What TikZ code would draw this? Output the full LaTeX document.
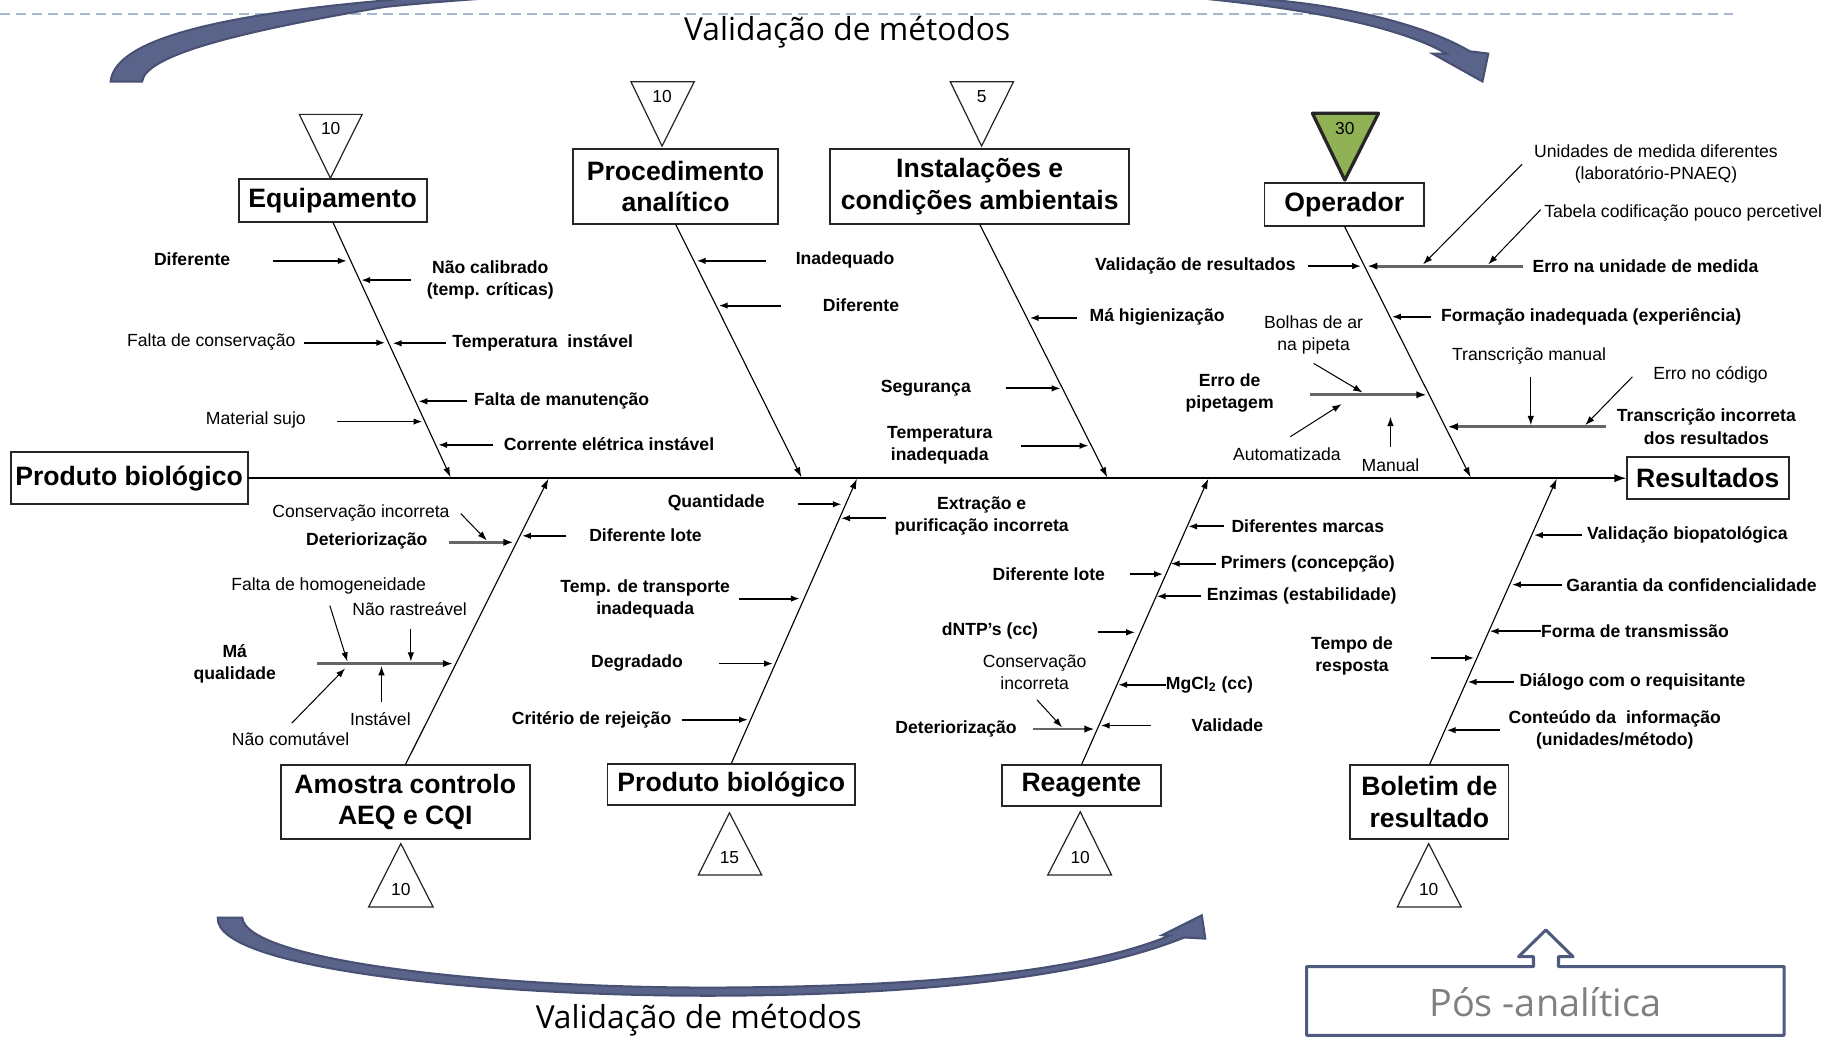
\documentclass[tikz,border=0pt]{standalone}
\usepackage{fontspec}
\setmainfont{Liberation Sans}
\newfontfamily\slidefont{Open Sans}
\usetikzlibrary{arrows.meta}
\definecolor{arcblue}{RGB}{90,99,138}
\definecolor{arcedge}{RGB}{72,80,115}
\definecolor{dashblue}{RGB}{165,184,207}
\definecolor{opgreen}{RGB}{145,178,84}
\definecolor{posblue}{RGB}{80,90,125}
\definecolor{posgrey}{RGB}{128,128,128}

\begin{document}
\begin{tikzpicture}[x=0.02cm, y=-0.02cm,
	box/.style = {draw=black!85, line width=0.9pt, fill=white, align=center,
		inner sep=0pt, outer sep=0pt,
		font=\fontsize{13}{15.4}\selectfont\bfseries},
	cause/.style = {align=center, inner sep=0pt,
		font=\fontsize{8.6}{10.8}\selectfont\bfseries},
	note/.style = {align=center, inner sep=0pt,
		font=\fontsize{8.6}{10.8}\selectfont},
	score/.style = {inner sep=0pt, font=\fontsize{8.5}{10}\selectfont},
	title/.style = {anchor=base, inner sep=0pt,
		font=\slidefont\fontsize{15.5}{18}\selectfont},
	tri/.style = {draw=black!85, line width=0.6pt, fill=white},
	spine/.style = {line width=0.8pt, -{Latex[length=6pt,width=4pt]}},
	bone/.style = {line width=0.55pt, -{Latex[length=5pt,width=3.2pt]}},
	arr/.style = {line width=0.9pt, -{Latex[length=4.5pt,width=3.2pt]}},
	twig/.style = {line width=0.5pt, -{Latex[length=4.5pt,width=3.2pt]}},
	sub/.style = {line width=1.4pt, draw=black!60,
		-{Latex[length=5pt,width=3.6pt,black]}},
	band/.style = {fill=arcblue, draw=arcedge, line width=1pt}]

\useasboundingbox (0,0) rectangle (1568,890);
\clip (0,0) rectangle (1568,890);

\draw[dashblue, line width=1pt, dash pattern=on 4.9pt off 2.9pt] (0,12) -- (1488,12);

\filldraw[band] (95,70) .. controls (98,40) and (160,15) .. (335,0)
	.. controls (500,-22) and (900,-25) .. (1093,0)
	.. controls (1160,6) and (1225,22) .. (1262,44) -- (1278,46) -- (1273,70)
	-- (1230,46) -- (1242,46) .. controls (1200,22) and (1120,8) .. (1045,0)
	.. controls (880,-18) and (520,-14) .. (330,6)
	.. controls (200,28) and (125,48) .. (122,70) -- cycle;
\filldraw[band] (187,788) .. controls (184,832) and (420,856) .. (620,855)
	.. controls (800,854) and (935,838) .. (1017,805) -- (1035,806) -- (1032,786)
	-- (998,803) -- (1004,803.5) .. controls (930,834) and (800,847) .. (620,848)
	.. controls (430,849) and (212,826) .. (208,788) -- cycle;
\node[title] (vtop) at (727.5,34.4) {Validação de métodos};
\node[title] (vbot) at (600,883) {Validação de métodos};

\draw[posblue, line width=1.5pt, line join=round] (1122,830) -- (1316.8,830) -- (1316.8,821.5)
	-- (1304,821.5) -- (1327.4,798.6) -- (1350.8,821.5) -- (1338.3,821.5) -- (1338.3,830)
	-- (1532,830) -- (1532,889) -- (1122,889) -- cycle;
\node[anchor=base, inner sep=0pt, text=posgrey,
	font=\slidefont\fontsize{18.5}{22}\selectfont] (pos) at (1327,873) {Pós -analítica};

\node[box, minimum width=3.23cm, minimum height=0.73cm] (equip) at (285.7,172.2) {Equipamento};
\node[box, minimum width=3.51cm, minimum height=1.29cm] (proc) at (580.1,160.2) {Procedimento\\analítico};
\node[box, minimum width=5.13cm, minimum height=1.29cm] (inst) at (841.3,160.4) {Instalações e\\condições ambientais};
\node[box, minimum width=2.74cm, minimum height=0.74cm] (oper) at (1154.3,175.4) {Operador};
\node[box, minimum width=4.07cm, minimum height=0.89cm] (prod) at (110.9,410.6) {Produto biológico};
\node[box, minimum width=2.79cm, minimum height=0.72cm] (res) at (1466.5,410.6) {Resultados};
\node[box, minimum width=4.28cm, minimum height=1.27cm] (amos) at (348,688.6) {Amostra controlo\\AEQ e CQI};
\node[box, minimum width=4.25cm, minimum height=0.71cm] (prodb) at (627.9,673.5) {Produto biológico};
\node[box, minimum width=2.74cm, minimum height=0.71cm] (reag) at (928.6,674.6) {Reagente};
\node[box, minimum width=2.72cm, minimum height=1.27cm] (bol) at (1227.4,688.6) {Boletim de\\resultado};

\draw[tri] (257,98.2) -- (311,98.2) -- (283.7,153) -- cycle;
\node[score] (sc1) at (284,110.2) {10};
\draw[tri] (541.8,70.2) -- (596.2,70.2) -- (568.5,125.4) -- cycle;
\node[score] (sc2) at (568.5,83) {10};
\draw[tri] (816,70.2) -- (870.3,70.2) -- (842.9,125.4) -- cycle;
\node[score] (sc3) at (842.9,83) {5};
\draw[tri, fill=opgreen, line width=1.6pt, line join=round] (1127,97.3) -- (1183.7,97.3) -- (1154.8,154.6) -- cycle;
\node[score] (sc4) at (1154.8,110.2) {30};
\draw[tri] (344.2,724.4) -- (371.9,778.8) -- (316.5,778.8) -- cycle;
\node[score] (sc5) at (344.2,763.9) {10};
\draw[tri] (626.4,698) -- (654.1,751.4) -- (599.7,751.4) -- cycle;
\node[score] (sc6) at (626.4,736.5) {15};
\draw[tri] (927.6,697.1) -- (954.5,751.4) -- (899.7,751.4) -- cycle;
\node[score] (sc7) at (927.6,736.5) {10};
\draw[tri] (1226.8,724.4) -- (1254.7,778.8) -- (1199.9,778.8) -- cycle;
\node[score] (sc8) at (1226.8,763.9) {10};

\draw[spine] (prod.east) -- (res.west);
\coordinate (s1) at (387,410); \coordinate (s2) at (688.3,410);
\coordinate (s3) at (950.9,410); \coordinate (s4) at (1262.9,410);
\coordinate (s5) at (471,411); \coordinate (s6) at (735.9,411);
\coordinate (s7) at (1037.6,411); \coordinate (s8) at (1336.8,411);
\draw[bone] (equip.south) -- (s1);
\draw[bone] (proc.south) -- (s2);
\draw[bone] (inst.south) -- (s3);
\draw[bone] (oper.south) -- (s4);
\draw[bone] (amos.north) -- (s5);
\draw[bone] (prodb.north) -- (s6);
\draw[bone] (reag.north) -- (s7);
\draw[bone] (bol.north) -- (s8);

\node[cause] (eq1) at (165,223) {Diferente};
\coordinate (eq1t) at (234,224); \coordinate (eq1h) at (298,224);
\draw[arr] (eq1t) -- (eq1h);
\node[cause] (eq2) at (421,240.5) {Não calibrado\\(temp. críticas)};
\coordinate (eq2t) at (353,240.5); \coordinate (eq2h) at (310,240.5);
\draw[arr] (eq2t) -- (eq2h);
\node[note] (eq3) at (181.4,294) {Falta de conservação};
\coordinate (eq3t) at (261,294.3); \coordinate (eq3h) at (331,294.3);
\draw[arr] (eq3t) -- (eq3h);
\node[cause] (eq4) at (466,294.8) {Temperatura\ \ instável};
\coordinate (eq4t) at (383,294.8); \coordinate (eq4h) at (337,294.8);
\draw[arr] (eq4t) -- (eq4h);
\node[cause] (eq5) at (482.3,344) {Falta de manutenção};
\coordinate (eq5t) at (400.6,344.6); \coordinate (eq5h) at (359,344.6);
\draw[arr] (eq5t) -- (eq5h);
\node[note] (eq6) at (219.7,360.7) {Material sujo};
\coordinate (eq6t) at (289.8,362); \coordinate (eq6h) at (363,362);
\draw[arr] (eq6t) -- (eq6h);
\node[cause] (eq7) at (523,381.3) {Corrente elétrica instável};
\coordinate (eq7t) at (423.3,382); \coordinate (eq7h) at (376,382);
\draw[arr] (eq7t) -- (eq7h);

\node[cause] (pr1) at (725.7,223.3) {Inadequado};
\coordinate (pr1t) at (658,224); \coordinate (pr1h) at (598,224);
\draw[arr] (pr1t) -- (pr1h);
\node[cause] (pr2) at (739.3,262) {Diferente};
\coordinate (pr2t) at (671,262.4); \coordinate (pr2h) at (617,262.4);
\draw[arr] (pr2t) -- (pr2h);

\node[cause] (in1) at (993.6,272.5) {Má higienização};
\coordinate (in1t) at (925,273); \coordinate (in1h) at (884,273);
\draw[arr] (in1t) -- (in1h);
\node[cause] (in2) at (795,333) {Segurança};
\coordinate (in2t) at (864,333.5); \coordinate (in2h) at (911,333.5);
\draw[arr] (in2t) -- (in2h);
\node[cause] (in3) at (807,382) {Temperatura\\inadequada};
\coordinate (in3t) at (877,382.7); \coordinate (in3h) at (935,382.7);
\draw[arr] (in3t) -- (in3h);

\node[cause] (op1) at (1026.5,228.5) {Validação de resultados};
\coordinate (op1t) at (1123,228.5); \coordinate (op1h) at (1169,228.5);
\draw[arr] (op1t) -- (op1h);
\node[cause] (op2) at (1413,228.5) {Erro na unidade de medida};
\coordinate (op2t) at (1308,228.5); \coordinate (op2h) at (1174,228.5);
\draw[sub] (op2t) -- (op2h);
\node[note] (op2a) at (1422,140.7) {Unidades de medida diferentes\\(laboratório-PNAEQ)};
\coordinate (op2at) at (1307,141); \coordinate (op2ah) at (1222,227);
\draw[twig] (op2at) -- (op2ah);
\node[note, anchor=west] (op2b) at (1325.7,183) {Tabela codificação pouco percetivel};
\coordinate (op2bt) at (1323,180); \coordinate (op2bh) at (1278,227);
\draw[twig] (op2bt) -- (op2bh);
\node[cause] (op3) at (1366.3,272) {Formação inadequada (experiência)};
\coordinate (op3t) at (1229,272); \coordinate (op3h) at (1195,272);
\draw[arr] (op3t) -- (op3h);
\node[cause] (op4) at (1055.9,337.8) {Erro de\\pipetagem};
\coordinate (op4t) at (1125,339); \coordinate (op4h) at (1225,339);
\draw[sub] (op4t) -- (op4h);
\node[note] (op4a) at (1128,287.7) {Bolhas de ar\\na pipeta};
\coordinate (op4at) at (1128,312); \coordinate (op4ah) at (1170,337);
\draw[twig] (op4at) -- (op4ah);
\node[note] (op4b) at (1105,390) {Automatizada};
\coordinate (op4bt) at (1108,375); \coordinate (op4bh) at (1152,347);
\draw[twig] (op4bt) -- (op4bh);
\node[note] (op4c) at (1194,399.3) {Manual};
\coordinate (op4ct) at (1194,383.6); \coordinate (op4ch) at (1194,358);
\draw[twig] (op4ct) -- (op4ch);
\node[cause] (op5) at (1465.3,366.4) {Transcrição incorreta\\dos resultados};
\coordinate (op5t) at (1379,366.4); \coordinate (op5h) at (1243,366.4);
\draw[sub] (op5t) -- (op5h);
\node[note] (op5a) at (1313,306) {Transcrição manual};
\coordinate (op5at) at (1314.5,323.5); \coordinate (op5ah) at (1314.5,365);
\draw[twig] (op5at) -- (op5ah);
\node[note] (op5b) at (1468.8,322) {Erro no código};
\coordinate (op5bt) at (1401.8,323.5); \coordinate (op5bh) at (1361.3,365);
\draw[twig] (op5bt) -- (op5bh);

\node[cause] (am1) at (315,464.8) {Deteriorização};
\coordinate (am1t) at (385.5,465.7); \coordinate (am1h) at (441,465.7);
\draw[sub] (am1t) -- (am1h);
\node[note] (am1a) at (310,440.9) {Conservação incorreta};
\coordinate (am1at) at (395.6,441); \coordinate (am1ah) at (418,464);
\draw[twig] (am1at) -- (am1ah);
\node[cause] (am2) at (554.3,459.5) {Diferente lote};
\coordinate (am2t) at (486.3,460.1); \coordinate (am2h) at (448,460.1);
\draw[arr] (am2t) -- (am2h);
\node[cause] (am3) at (201.6,569.8) {Má\\qualidade};
\coordinate (am3t) at (272,569.8); \coordinate (am3h) at (389,569.8);
\draw[sub] (am3t) -- (am3h);
\node[note] (am3a) at (282.2,503) {Falta de homogeneidade};
\coordinate (am3at) at (283.2,520); \coordinate (am3ah) at (298.3,568);
\draw[twig] (am3at) -- (am3ah);
\node[note] (am3b) at (351.8,523.1) {Não rastreável};
\coordinate (am3bt) at (352.8,540); \coordinate (am3bh) at (352.8,568);
\draw[twig] (am3bt) -- (am3bh);
\node[note] (am3c) at (326.6,617.9) {Instável};
\coordinate (am3ct) at (327.6,602.4); \coordinate (am3ch) at (327.6,572);
\draw[twig] (am3ct) -- (am3ch);
\node[note] (am3d) at (249.5,634.9) {Não comutável};
\coordinate (am3dt) at (250.5,621); \coordinate (am3dh) at (296.3,574);
\draw[twig] (am3dt) -- (am3dh);

\node[cause] (pb1) at (615,432) {Quantidade};
\coordinate (pb1t) at (685,433); \coordinate (pb1h) at (723,433);
\draw[arr] (pb1t) -- (pb1h);
\node[cause] (pb2) at (843,443) {Extração e\\purificação incorreta};
\coordinate (pb2t) at (761,445); \coordinate (pb2h) at (722,445);
\draw[arr] (pb2t) -- (pb2h);
\node[cause] (pb3) at (554,514) {Temp. de transporte\\inadequada};
\coordinate (pb3t) at (635,514); \coordinate (pb3h) at (687,514);
\draw[arr] (pb3t) -- (pb3h);
\node[cause] (pb4) at (547,569) {Degradado};
\coordinate (pb4t) at (617,569.8); \coordinate (pb4h) at (664,569.8);
\draw[arr] (pb4t) -- (pb4h);
\node[cause] (pb5) at (508,618) {Critério de rejeição};
\coordinate (pb5t) at (585.6,618); \coordinate (pb5h) at (642.5,618);
\draw[arr] (pb5t) -- (pb5h);

\node[cause] (re1) at (1123,451.7) {Diferentes marcas};
\coordinate (re1t) at (1051,452); \coordinate (re1h) at (1020,452);
\draw[arr] (re1t) -- (re1h);
\node[cause] (re2) at (1123,484) {Primers (concepção)};
\coordinate (re2t) at (1044,484); \coordinate (re2h) at (1005,484);
\draw[arr] (re2t) -- (re2h);
\node[cause] (re3) at (900.6,493) {Diferente lote};
\coordinate (re3t) at (970.7,493); \coordinate (re3h) at (999,493);
\draw[arr] (re3t) -- (re3h);
\node[cause] (re4) at (1117.8,511.7) {Enzimas (estabilidade)};
\coordinate (re4t) at (1031.5,512); \coordinate (re4h) at (993,512);
\draw[arr] (re4t) -- (re4h);
\node[cause] (re5) at (850,542) {dNTP's (cc)};
\coordinate (re5t) at (942.8,543); \coordinate (re5h) at (975,543);
\draw[arr] (re5t) -- (re5h);
\node[cause] (re6) at (1038.5,588) {MgCl\textsubscript{2} (cc)};
\coordinate (re6t) at (1001,588); \coordinate (re6h) at (960,588);
\draw[arr] (re6t) -- (re6h);
\node[cause] (re7) at (821,625.7) {Deteriorização};
\coordinate (re7t) at (887,626); \coordinate (re7h) at (940,626);
\draw[sub] (re7t) -- (re7h);
\node[note] (re7a) at (888.5,577.5) {Conservação\\incorreta};
\coordinate (re7at) at (890.5,601); \coordinate (re7ah) at (912,624.5);
\draw[twig] (re7at) -- (re7ah);
\node[cause] (re8) at (1054,622.6) {Validade};
\coordinate (re8t) at (988.4,623); \coordinate (re8h) at (945,623);
\draw[arr] (re8t) -- (re8h);

\node[cause] (bo1) at (1449,459.5) {Validação biopatológica};
\coordinate (bo1t) at (1358.7,459.5); \coordinate (bo1h) at (1317,459.5);
\draw[arr] (bo1t) -- (bo1h);
\node[cause] (bo2) at (1452.5,502.4) {Garantia da confidencialidade};
\coordinate (bo2t) at (1341,502); \coordinate (bo2h) at (1298,502);
\draw[arr] (bo2t) -- (bo2h);
\node[cause] (bo3) at (1404,542) {Forma de transmissão};
\coordinate (bo3t) at (1323,542); \coordinate (bo3h) at (1279,542);
\draw[arr] (bo3t) -- (bo3h);
\node[cause] (bo4) at (1161,563.6) {Tempo de\\resposta};
\coordinate (bo4t) at (1229,565); \coordinate (bo4h) at (1266,565);
\draw[arr] (bo4t) -- (bo4h);
\node[cause] (bo5) at (1401.8,585.3) {Diálogo com o requisitante};
\coordinate (bo5t) at (1300,585.6); \coordinate (bo5h) at (1260,585.6);
\draw[arr] (bo5t) -- (bo5h);
\node[cause] (bo6) at (1386.6,627) {Conteúdo da\ \ informação\\(unidades/método)};
\coordinate (bo6t) at (1287.7,627); \coordinate (bo6h) at (1242,627);
\draw[arr] (bo6t) -- (bo6h);
\end{tikzpicture}
\end{document}
